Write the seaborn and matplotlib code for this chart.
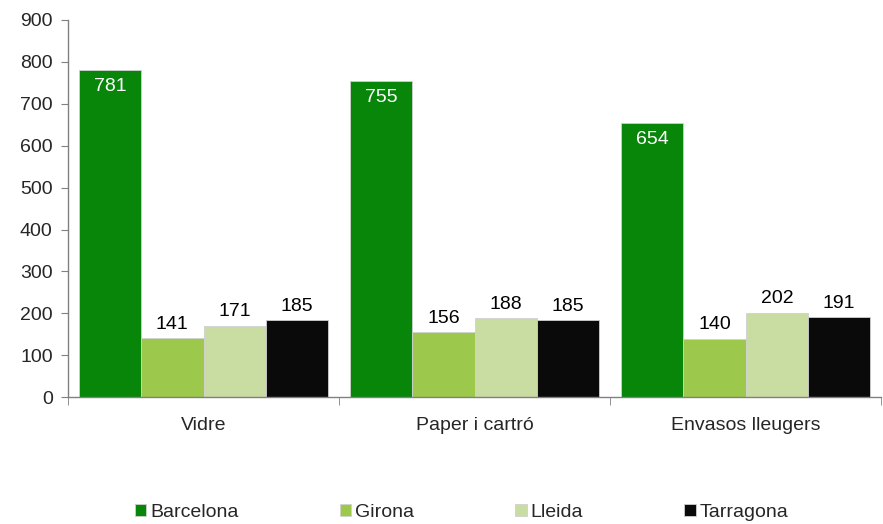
import pandas as pd
import seaborn as sns
import matplotlib.pyplot as plt
from matplotlib.ticker import FixedLocator

categories = ['Vidre', 'Paper i cartró', 'Envasos lleugers']
provinces = ['Barcelona', 'Girona', 'Lleida', 'Tarragona']
barcelona = [781, 755, 654]
girona = [141, 156, 140]
lleida = [171, 188, 202]
tarragona = [185, 185, 191]
colors = ['#07860a', '#9cc84c', '#c9dca2', '#0a0a0a']

rows = []
for prov, vals in zip(provinces, [barcelona, girona, lleida, tarragona]):
    for cat, v in zip(categories, vals):
        rows.append({'cat': cat, 'prov': prov, 'val': v})
df = pd.DataFrame(rows)

sns.set_style('white')
plt.rcParams['font.family'] = ['Liberation Sans', 'DejaVu Sans']

fig = plt.figure(figsize=(8.83, 5.24), dpi=100)
ax = fig.add_axes([0.077, 0.242, 0.921, 0.72])
sns.barplot(data=df, x='cat', y='val', hue='prov', order=categories,
            hue_order=provinces, palette=colors, width=0.92, gap=0,
            edgecolor='#d0d0d0', linewidth=0.6, saturation=1, ax=ax)

for cont, prov in zip(ax.containers, provinces):
    for bar in cont:
        h = bar.get_height()
        x = bar.get_x() + bar.get_width() / 2
        if prov == 'Barcelona':
            ax.text(x, h - 20, f'{int(h)}', ha='center', va='top',
                    color='white', fontsize=14)
        else:
            ax.text(x, h + 12, f'{int(h)}', ha='center', va='bottom',
                    color='black', fontsize=14)

ax.set_xlim(-0.5, 2.5)
ax.set_ylim(0, 900)
ax.set_yticks(range(0, 901, 100))
ax.set_xlabel('')
ax.set_ylabel('')
ax.tick_params(axis='y', labelsize=14, length=5, color='#808080', left=True,
               direction='out', pad=6)
ax.tick_params(axis='x', which='major', labelsize=14, length=0, pad=14)
ax.xaxis.set_minor_locator(FixedLocator([-0.5, 0.5, 1.5, 2.5]))
ax.tick_params(axis='x', which='minor', length=6, color='#808080',
               direction='out', bottom=True)
for s in ['top', 'right']:
    ax.spines[s].set_visible(False)
for s in ['left', 'bottom']:
    ax.spines[s].set_color('#808080')
    ax.spines[s].set_linewidth(1)

handles, labels = ax.get_legend_handles_labels()
ax.legend(handles, labels, loc='center', bbox_to_anchor=(0.484, -0.305),
          ncol=4, frameon=False, fontsize=14, handlelength=0.6,
          handleheight=0.6, handletextpad=0.2, columnspacing=5.2)

fig.savefig('out.png', dpi=100)
